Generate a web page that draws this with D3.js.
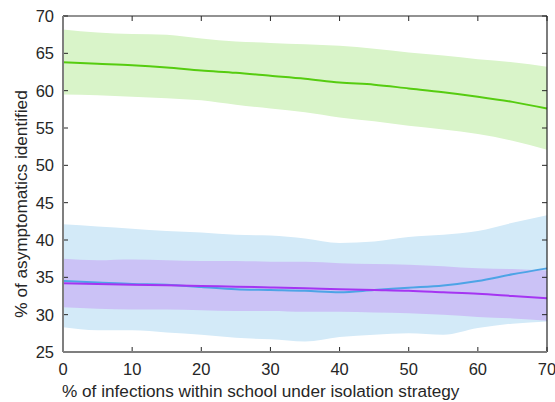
<!DOCTYPE html>
<html>
<head>
<meta charset="utf-8">
<script src="https://cdn.jsdelivr.net/npm/d3@7"></script>
<style>
  body { margin: 0; background: #fff; }
  text { font-family: "Liberation Sans", Arial, sans-serif; fill: #262626; }
</style>
</head>
<body>
<svg id="chart"></svg>
<script>
const width = 555;
const height = 402;

// x positions (% of infections within school)
const xs = [0, 5, 10, 15, 20, 25, 30, 35, 40, 45, 50, 55, 60, 65, 70];

// green series
const greenMean = [63.8, 63.6, 63.4, 63.1, 62.7, 62.4, 62.0, 61.6, 61.1, 60.8, 60.3, 59.8, 59.2, 58.5, 57.6];
const greenHi   = [68.2, 67.8, 67.6, 67.5, 67.0, 66.6, 66.4, 66.2, 66.0, 65.6, 65.1, 64.7, 64.2, 63.8, 63.2];
const greenLo   = [59.5, 59.4, 59.2, 59.0, 58.7, 58.1, 57.6, 57.1, 56.4, 55.9, 55.3, 54.8, 54.2, 53.3, 52.1];

// blue series
const blueMean = [34.5, 34.3, 34.1, 34.0, 33.7, 33.4, 33.3, 33.2, 33.0, 33.3, 33.6, 33.9, 34.5, 35.4, 36.2];
const blueHi   = [42.1, 41.8, 41.5, 41.2, 41.0, 40.7, 40.6, 40.2, 39.6, 39.8, 40.4, 40.7, 41.2, 42.3, 43.3];
const blueLo   = [28.3, 27.9, 27.9, 27.6, 27.3, 26.9, 26.7, 26.4, 27.0, 27.3, 27.5, 27.3, 28.2, 28.8, 29.1];

// purple series
const purpleMean = [34.2, 34.1, 34.0, 33.95, 33.85, 33.75, 33.65, 33.55, 33.4, 33.3, 33.2, 33.0, 32.8, 32.5, 32.2];
const purpleHi   = [37.5, 37.3, 37.4, 37.3, 37.2, 37.2, 37.1, 37.1, 36.9, 36.8, 36.7, 36.5, 36.2, 36.1, 35.9];
const purpleLo   = [31.0, 30.8, 30.7, 30.7, 30.6, 30.5, 30.5, 30.4, 30.4, 30.3, 30.2, 30.0, 29.7, 29.5, 29.2];

const xTicks = [0, 10, 20, 30, 40, 50, 60, 70];
const yTicks = [25, 30, 35, 40, 45, 50, 55, 60, 65, 70];

const series = [
  { mean: greenMean, hi: greenHi, lo: greenLo, fill: '#d9f4c9', line: '#56cc10' },
  { mean: blueMean, hi: blueHi, lo: blueLo, fill: '#d3eaf8', line: '#4da4e6' },
  { mean: purpleMean, hi: purpleHi, lo: purpleLo, fill: '#cbc2f6', line: '#a535f2' }
];

const margin = { top: 16, right: 8, bottom: 50, left: 63 };

const svg = d3.select('#chart')
  .attr('width', width)
  .attr('height', height);

const x = d3.scaleLinear().domain([0, 70]).range([margin.left, width - margin.right]);
const y = d3.scaleLinear().domain([25, 70]).range([height - margin.bottom, margin.top]);

const area = (s) => d3.area()
  .x((d, i) => x(xs[i]))
  .y0((d, i) => y(s.lo[i]))
  .y1((d, i) => y(s.hi[i]))
  .curve(d3.curveMonotoneX)(xs);

const line = (vals) => d3.line()
  .x((d, i) => x(xs[i]))
  .y((d, i) => y(vals[i]))
  .curve(d3.curveMonotoneX)(xs);

// bands: purple drawn over blue
series.forEach(s => {
  svg.append('path')
    .attr('d', area(s))
    .attr('fill', s.fill);
});

series.forEach(s => {
  svg.append('path')
    .attr('d', line(s.mean))
    .attr('fill', 'none')
    .attr('stroke', s.line)
    .attr('stroke-width', 2);
});

// box and ticks
const x0 = x(0), x1 = x(70), y0 = y(25), y1 = y(70);
const tickLen = 5;

const ticks = svg.append('g').attr('stroke', '#262626').attr('stroke-width', 1);
xTicks.forEach(t => {
  ticks.append('line').attr('x1', x(t)).attr('x2', x(t)).attr('y1', y0).attr('y2', y0 - tickLen);
  ticks.append('line').attr('x1', x(t)).attr('x2', x(t)).attr('y1', y1).attr('y2', y1 + tickLen);
});
yTicks.forEach(t => {
  ticks.append('line').attr('x1', x0).attr('x2', x0 + tickLen).attr('y1', y(t)).attr('y2', y(t));
  ticks.append('line').attr('x1', x1).attr('x2', x1 - tickLen).attr('y1', y(t)).attr('y2', y(t));
});

svg.append('line').attr('x1', x0).attr('x2', x1).attr('y1', y1).attr('y2', y1)
  .attr('stroke', '#262626').attr('stroke-width', 1.2);
svg.append('line').attr('x1', x1).attr('x2', x1).attr('y1', y1).attr('y2', y0)
  .attr('stroke', '#262626').attr('stroke-width', 1.2);
svg.append('line').attr('x1', x0).attr('x2', x0).attr('y1', y1).attr('y2', y0)
  .attr('stroke', '#7f7f7f').attr('stroke-width', 2);
svg.append('line').attr('x1', x0).attr('x2', x1).attr('y1', y0).attr('y2', y0)
  .attr('stroke', '#7f7f7f').attr('stroke-width', 2);

// tick labels
svg.append('g').selectAll('text')
  .data(xTicks)
  .enter()
  .append('text')
    .attr('x', d => x(d))
    .attr('y', y0 + 23)
    .attr('text-anchor', 'middle')
    .style('font-size', '16.5px')
    .text(d => d);

svg.append('g').selectAll('text')
  .data(yTicks)
  .enter()
  .append('text')
    .attr('x', x0 - 9)
    .attr('y', d => y(d) + 6)
    .attr('text-anchor', 'end')
    .style('font-size', '16.5px')
    .text(d => d);

// axis titles
svg.append('text')
  .attr('x', 62)
  .attr('y', 397)
  .style('font-size', '17.2px')
  .text('% of infections within school under isolation strategy');

svg.append('text')
  .attr('transform', 'translate(27, 204) rotate(-90)')
  .attr('text-anchor', 'middle')
  .style('font-size', '17.2px')
  .text('% of asymptomatics identified');
</script>
</body>
</html>
